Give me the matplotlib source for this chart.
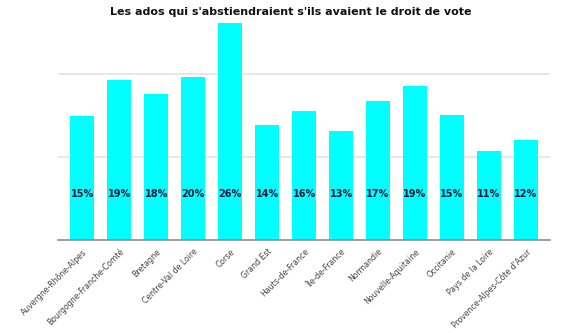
import matplotlib.pyplot as plt

regions = ["Auvergne-Rhône-Alpes", "Bourgogne-Franche-Comté", "Bretagne",
           "Centre-Val de Loire", "Corse", "Grand Est", "Hauts-de-France",
           "Île-de-France", "Normandie", "Nouvelle-Aquitaine", "Occitanie",
           "Pays de la Loire", "Provence-Alpes-Côte d'Azur"]
heights = [15, 19.3, 17.6, 19.7, 26.2, 13.9, 15.6, 13.1, 16.8, 18.6, 15.1, 10.7, 12.1]
labels = ["15%", "19%", "18%", "20%", "26%", "14%", "16%", "13%", "17%", "19%", "15%", "11%", "12%"]

fig = plt.figure(figsize=(5.82, 3.33), dpi=100)
ax = fig.add_axes([0.1, 0.279, 0.845, 0.66])

x = range(len(regions))
ax.bar(x, heights, width=0.65, color="#00FFFF", zorder=2)
for i, lab in zip(x, labels):
    ax.text(i, 5.5, lab, ha="center", va="center", fontsize=7, fontweight="bold",
            color="#1c1a3c", zorder=3)

ax.set_xlim(-0.65, 12.65)
ax.set_ylim(0, 26.5)
ax.set_yticks([10, 20])
ax.yaxis.grid(True, color="#e3e3e3", linewidth=1.2, zorder=0)
ax.tick_params(axis="y", length=0, labelleft=False)
ax.set_xticks(list(x))
ax.set_xticklabels(regions, rotation=45, ha="right", rotation_mode="anchor",
                   fontsize=5.6, color="#444444")
ax.tick_params(axis="x", length=0, pad=5)
for s in ["top", "right", "left"]:
    ax.spines[s].set_visible(False)
ax.spines["bottom"].set_color("#8c8c8c")
ax.spines["bottom"].set_linewidth(1.2)
ax.spines["bottom"].set_zorder(3)

fig.text(0.5, 0.965, "Les ados qui s'abstiendraient s'ils avaient le droit de vote",
         ha="center", va="center", fontsize=8, fontweight="bold", color="#111111")

fig.savefig("out.png", dpi=100)
